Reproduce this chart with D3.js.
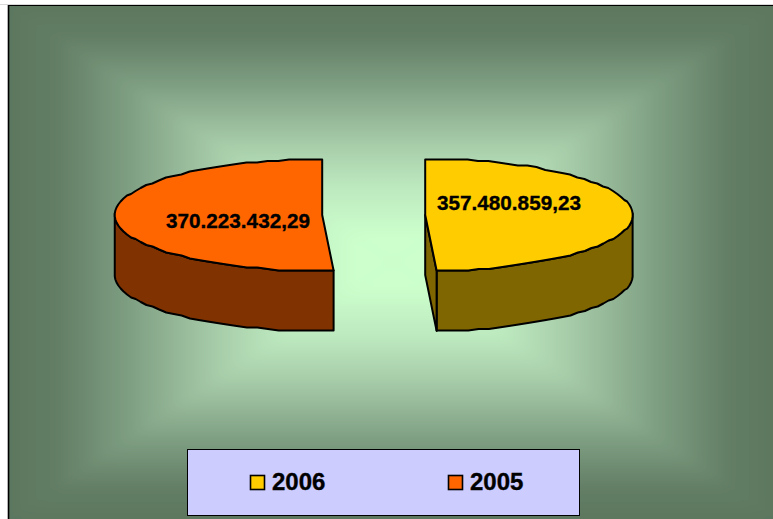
<!DOCTYPE html>
<html><head><meta charset="utf-8">
<script src="https://cdn.jsdelivr.net/npm/d3@7"></script>
<style>html,body{margin:0;padding:0;background:#fff}svg{display:block}</style>
</head><body><svg id="c" width="773" height="519"></svg>
<script>
const categories = ["2006", "2005"];
const seriesValues = [357480859.23, 370223432.29];
const valueLabels = ["357.480.859,23", "370.223.432,29"];
const topColors = ["#ffcc00", "#ff6600"];
const sideColors = ["#806600", "#803300"];
const gradOffsets = [0, 0.1, 0.3, 0.5, 0.7, 0.88, 1];
const gradColors = ["#ccffcc", "#ccffcc", "#bce8be", "#a0c4a2", "#7c9c80", "#627d64", "#5c775e"];

const W = 773, H = 519;
const svg = d3.select("#c");
const defs = svg.append("defs");

const frame = {x0: 9, y0: 5, x1: 777, y1: 520};
const cx = 393, cy = 262;
defs.append("clipPath").attr("id","frameClip").append("rect")
  .attr("x",frame.x0).attr("y",frame.y0).attr("width",W-frame.x0).attr("height",H-frame.y0);
defs.append("filter").attr("id","soft").attr("x",0).attr("y",0).attr("width",1).attr("height",1)
  .attr("filterUnits","objectBoundingBox")
  .append("feGaussianBlur").attr("stdDeviation",5);
const bgOuter = svg.append("g").attr("clip-path","url(#frameClip)");
const bg = bgOuter.append("g").attr("filter","url(#soft)");
const ext = 40;
const tris = [
  {id:"gT", p:[[frame.x0,frame.y0],[frame.x1,frame.y0],[cx,cy]], g:[cx,frame.y0]},
  {id:"gB", p:[[frame.x0,frame.y1],[frame.x1,frame.y1],[cx,cy]], g:[cx,frame.y1]},
  {id:"gL", p:[[frame.x0,frame.y0],[frame.x0,frame.y1],[cx,cy]], g:[frame.x0,cy]},
  {id:"gR", p:[[frame.x1,frame.y0],[frame.x1,frame.y1],[cx,cy]], g:[frame.x1,cy]}
];
bg.append("rect").attr("x",frame.x0-ext).attr("y",frame.y0-ext)
  .attr("width",frame.x1-frame.x0+2*ext).attr("height",frame.y1-frame.y0+2*ext).attr("fill",gradColors[6]);
tris.forEach(t => {
  const lg = defs.append("linearGradient").attr("id", t.id).attr("gradientUnits","userSpaceOnUse")
    .attr("x1",cx).attr("y1",cy).attr("x2",t.g[0]).attr("y2",t.g[1]);
  gradOffsets.forEach((o,k) => lg.append("stop").attr("offset",o).attr("stop-color",gradColors[k]));
  bg.append("polygon").attr("points",t.p.map(d=>d.join(",")).join(" "))
    .attr("fill",`url(#${t.id})`).attr("stroke",`url(#${t.id})`).attr("stroke-width",0.6);
});
svg.append("line").attr("x1",0).attr("x2",W).attr("y1",4.5).attr("y2",4.5).attr("stroke","#d8d8d8");
svg.append("line").attr("x1",8).attr("x2",W).attr("y1",5.5).attr("y2",5.5).attr("stroke","#000").attr("stroke-width",1.2);
svg.append("line").attr("x1",8.5).attr("x2",8.5).attr("y1",5).attr("y2",H).attr("stroke","#000").attr("stroke-width",1.6);

// 3D pie
const pieCx = 373.7, pieCy = 215, rx = 207.5, ry = 56, depth = 60, explode = 51.5;
const sx = d3.scaleLinear().domain([-1,1]).range([-rx,rx]);
const sy = d3.scaleLinear().domain([-1,1]).range([ry,-ry]);
const arcs = d3.pie().value(d=>d).sort(null)(seriesValues);
const outline = "#000";
const grid = 1.5; // the reference's rim is a slightly stepped polyline

arcs.forEach((a,i) => {
  const dir = i === 0 ? 1 : -1;
  const ox = pieCx + dir*explode, oy = pieCy;
  const raw = t => [ox + sx(Math.sin(t)), oy + sy(Math.cos(t))];
  const pt = t => { const p = raw(t); return [p[0], oy + Math.round((p[1]-oy)/grid)*grid]; };
  const N = 60;
  const ts = d3.range(N+1).map(k => a.startAngle + (a.endAngle-a.startAngle)*k/N);
  const g = svg.append("g").attr("class","slice");
  const line = d3.line();
  const sw = 2;

  const front = ts.filter(t => Math.abs(t-Math.PI) <= Math.PI/2 + 0.03);
  const rim = front.map(pt);
  const wall = rim.concat(rim.slice().reverse().map(p=>[p[0],p[1]+depth]));
  g.append("path").attr("d",line(wall)+"Z").attr("fill",sideColors[i]).attr("stroke",outline).attr("stroke-width",sw).attr("stroke-linejoin","round");

  if (i === 0) {
    const e = raw(a.endAngle);
    const face = [[ox,oy],e,[e[0],e[1]+depth],[ox,oy+depth]];
    g.append("path").attr("d",line(face)+"Z").attr("fill",sideColors[i]).attr("stroke",outline).attr("stroke-width",sw).attr("stroke-linejoin","round");
  }
  const top = [[ox,oy]].concat(ts.map(pt));
  g.append("path").attr("d",line(top)+"Z").attr("fill",topColors[i]).attr("stroke",outline).attr("stroke-width",sw).attr("stroke-linejoin","round");
});

// value labels
const labelPos = [[509,203],[238,221]];
valueLabels.forEach((t,i) => {
  svg.append("text").attr("x",labelPos[i][0]).attr("y",labelPos[i][1]+7).attr("text-anchor","middle")
    .attr("font-family","'Liberation Sans',Arial,sans-serif").attr("font-weight","bold").attr("font-size",20.7)
    .attr("fill","#000").attr("stroke","#000").attr("stroke-width",0.35).text(t);
});

// legend
svg.append("rect").attr("x",187.5).attr("y",449.5).attr("width",392).attr("height",66)
  .attr("fill","#ccccff").attr("stroke","#000").attr("stroke-width",1);
const legendX = d3.scalePoint().domain(categories).range([250.5,448.5]);
categories.forEach((c,i) => {
  const x = legendX(c);
  svg.append("rect").attr("x",x).attr("y",475.5).attr("width",14).attr("height",14)
    .attr("fill",topColors[i]).attr("stroke","#000").attr("stroke-width",1.6);
  svg.append("text").attr("x",x+21.5).attr("y",490).attr("font-family","'Liberation Sans',Arial,sans-serif")
    .attr("font-weight","bold").attr("font-size",24).attr("fill","#000").attr("stroke","#000").attr("stroke-width",0.35).text(c);
});
</script></body></html>
